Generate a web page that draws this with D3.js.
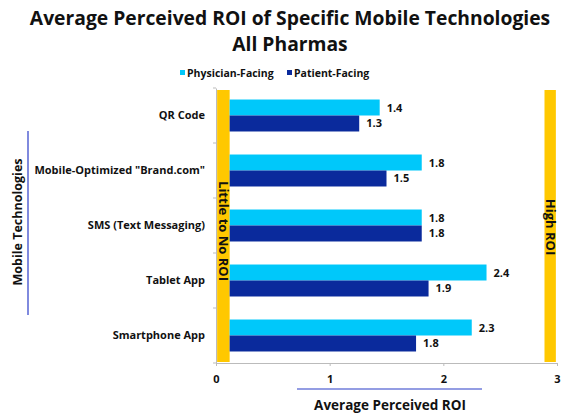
<!DOCTYPE html>
<html>
<head>
<meta charset="utf-8">
<script src="https://cdn.jsdelivr.net/npm/d3@7"></script>
<style>
  html, body { margin: 0; padding: 0; background: #fff; }
  svg { display: block; }
  text { font-family: "Open Sans", "Liberation Sans", sans-serif; font-weight: bold; fill: #111; }
</style>
</head>
<body>
<svg id="chart" width="580" height="417"></svg>
<script>
// ---- data ----
const categories = ["QR Code", "Mobile-Optimized \"Brand.com\"", "SMS (Text Messaging)", "Tablet App", "Smartphone App"];
const seriesNames = ["Physician-Facing", "Patient-Facing"];
const physicianValues = [1.44, 1.81, 1.81, 2.38, 2.25];
const patientValues = [1.26, 1.5, 1.81, 1.87, 1.76];
const xTicks = [0, 1, 2, 3];
const zoneLabels = ["Little to No ROI", "High ROI"];
const zoneStarts = [0.01, 2.89];
const zoneEnds = [0.12, 2.99];

const colors = ["#00c8fa", "#0a2a9c"];
const zoneColor = "#ffc800";

const svg = d3.select("#chart");

const x = d3.scaleLinear().domain([0, 3]).range([216, 557]);
const y = d3.scaleBand().domain(categories).range([88, 363]).paddingInner(0).paddingOuter(0);
const inner = d3.scaleBand().domain(seriesNames).range([0, y.bandwidth()]).paddingInner(0).paddingOuter(0.72);

// title
svg.append("text").attr("x", 290).attr("y", 25).attr("text-anchor", "middle")
  .style("font-size", "19.3px").text("Average Perceived ROI of Specific Mobile Technologies");
svg.append("text").attr("x", 290).attr("y", 51).attr("text-anchor", "middle")
  .style("font-size", "19.3px").text("All Pharmas");

// legend
const legend = svg.append("g");
const legX = [180, 287];
seriesNames.forEach((s, i) => {
  legend.append("rect").attr("x", legX[i]).attr("y", 70).attr("width", 5).attr("height", 5).attr("fill", colors[i]);
  legend.append("text").attr("x", legX[i] + 7).attr("y", 76.5).style("font-size", "10.5px").text(s);
});

// zones
const zones = zoneLabels.map((l, i) => ({ label: l, from: zoneStarts[i], to: zoneEnds[i] }));
svg.selectAll("rect.zone").data(zones).join("rect").attr("class", "zone")
  .attr("x", d => x(d.from)).attr("width", d => x(d.to) - x(d.from))
  .attr("y", 90).attr("height", 272).attr("fill", zoneColor);

// bars
const rows = categories.map((c, i) => ({ cat: c, vals: [physicianValues[i], patientValues[i]] }));
const g = svg.append("g");
rows.forEach(r => {
  r.vals.forEach((v, j) => {
    const yy = y(r.cat) + inner(seriesNames[j]);
    g.append("rect").attr("x", x(zoneEnds[0])).attr("y", yy)
      .attr("width", x(v) - x(zoneEnds[0])).attr("height", inner.bandwidth())
      .attr("fill", colors[j]);
    g.append("text").attr("x", x(v) + 7).attr("y", yy + inner.bandwidth() / 2 + 4)
      .style("font-size", "11px").text(v.toFixed(1));
  });
});

// zone labels
zones.forEach(z => {
  const cx = (x(z.from) + x(z.to)) / 2;
  const cy = z.label === "High ROI" ? 227 : 231;
  svg.append("text").attr("transform", `translate(${cx},${cy}) rotate(90)`)
    .attr("text-anchor", "middle").attr("dy", "0.35em")
    .style("font-size", "13px").text(z.label);
});

// y axis
const yAxis = svg.append("g").attr("transform", "translate(216,0)")
  .call(d3.axisLeft(y).tickSize(0).tickPadding(11));
yAxis.select(".domain").attr("stroke", "#bbb");
yAxis.selectAll("text").style("font-size", "11px").style("fill", "#111");
yAxis.selectAll("line.sep").data(d3.range(categories.length + 1)).join("line").attr("class", "sep")
  .attr("x1", -3).attr("x2", 0)
  .attr("y1", i => 88 + i * y.step()).attr("y2", i => 88 + i * y.step()).attr("stroke", "#bbb");

// x axis
const xAxis = svg.append("g").attr("transform", "translate(0,363)")
  .call(d3.axisBottom(x).tickValues(xTicks).tickFormat(d3.format("d")).tickSize(3).tickPadding(9).tickSizeOuter(0));
xAxis.select(".domain").attr("stroke", "#bbb");
xAxis.selectAll(".tick line").attr("stroke", "#bbb");
xAxis.selectAll("text").style("font-size", "11px").style("fill", "#111");

// axis titles
svg.append("line").attr("x1", 297).attr("x2", 482).attr("y1", 389).attr("y2", 389).attr("stroke", "#2a3cc8").attr("stroke-width", 1.2);
svg.append("text").attr("x", 390).attr("y", 410).attr("text-anchor", "middle").style("font-size", "13.5px").text("Average Perceived ROI");
svg.append("line").attr("x1", 28).attr("x2", 28).attr("y1", 131).attr("y2", 315).attr("stroke", "#2a3cc8").attr("stroke-width", 1.2);
svg.append("text").attr("transform", "translate(18,222) rotate(-90)").attr("text-anchor", "middle").attr("dy", "0.35em")
  .style("font-size", "12.5px").text("Mobile Technologies");
</script>
</body>
</html>
